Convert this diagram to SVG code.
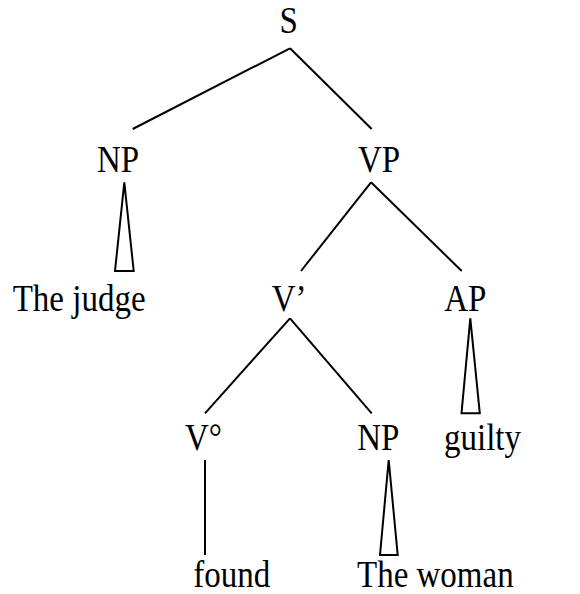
<svg xmlns="http://www.w3.org/2000/svg" width="580" height="594" viewBox="0 0 580 594">
<style>
text{font-family:"Liberation Serif","Times New Roman",serif;font-size:33px;fill:#000}
.e{fill:none;stroke:#000;stroke-width:2;stroke-linejoin:miter}
</style>
<rect width="580" height="594" fill="#fff"/>
<g id="connectors">
<line class="e" x1="290" y1="48.3" x2="132.7" y2="129"/>
<line class="e" x1="290" y1="48.3" x2="371.7" y2="129"/>
<polygon class="e" points="124.3,182.3 115,271 133.7,271"/>
<line class="e" x1="371" y1="182.3" x2="301" y2="271"/>
<line class="e" x1="371" y1="182.3" x2="461.7" y2="271"/>
<line class="e" x1="290" y1="318.3" x2="205" y2="413.3"/>
<line class="e" x1="290" y1="318.3" x2="371.7" y2="413.3"/>
<polygon class="e" points="470.3,318.3 461.5,413.3 479.8,413.3"/>
<line class="e" x1="205" y1="460" x2="205" y2="555"/>
<polygon class="e" points="388.7,460 380,555 397.7,555"/>
</g>
<g id="S"><text transform="translate(279.5,32.8) scale(1,1.12)">S</text></g>
<g id="NP1"><text transform="translate(97,172.3) scale(1,1.14)">NP</text></g>
<g id="VP"><text transform="translate(358,172.3) scale(1,1.14)">VP</text></g>
<g id="judge"><text transform="translate(12.7,311) scale(1,1.14)">The judge</text></g>
<g id="Vbar"><text transform="translate(271.7,311) scale(1,1.14)">V’</text></g>
<g id="AP"><text transform="translate(444.3,311) scale(1,1.14)">AP</text></g>
<g id="V0"><text transform="translate(185,450) scale(1,1.14)">V°</text></g>
<g id="NP2"><text transform="translate(357.3,450) scale(1,1.14)">NP</text></g>
<g id="guilty"><text transform="translate(444,450) scale(1,1.14)">guilty</text></g>
<g id="found"><text transform="translate(193.3,586.7) scale(1,1.14)">found</text></g>
<g id="woman"><text transform="translate(357,586.7) scale(1,1.14)">The woman</text></g>
</svg>
